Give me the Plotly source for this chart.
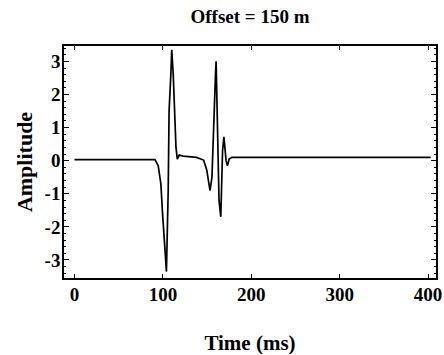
import plotly.graph_objects as go

time_ms = [0, 91, 94.7, 97.7, 99.6, 102, 104, 106, 107, 109, 110, 111.7, 114.8, 116.3,
           118.5, 123, 138, 146, 149.6, 152.6, 153.4, 155.5, 156.5, 158, 159.5, 160.2,
           161, 162, 163.5, 165.5, 166.5, 167.5, 169, 170, 171.5, 173, 175, 178, 185, 403]
amplitude = [0.03, 0.03, -0.15, -0.7, -1.6, -2.7, -3.35, -0.9, 1.5, 2.6, 3.35, 2.6, 0.4, 0.05,
             0.17, 0.14, 0.1, 0.02, -0.28, -0.78, -0.9, -0.5, 0.4, 2.0, 2.6, 3.0,
             2.0, 0.0, -1.2, -1.7, -0.5, 0.3, 0.72, 0.4, 0.0, -0.15, 0.05, 0.1, 0.1, 0.1]

title_text = "Offset = 150 m"
x_title = "Time (ms)"
y_title = "Amplitude"
x_ticks = [0, 100, 200, 300, 400]
y_ticks = [-3, -2, -1, 0, 1, 2, 3]

font_family = "Liberation Serif, Times New Roman, serif"

fig = go.Figure()
fig.add_trace(go.Scatter(x=time_ms, y=amplitude, mode="lines",
                         line=dict(color="black", width=1.7), showlegend=False))

fig.update_layout(
    width=444, height=355,
    margin=dict(l=64, r=8, t=46, b=77),
    paper_bgcolor="white", plot_bgcolor="white",
    title=dict(text="<b>" + title_text + "</b>", x=0.5, xref="paper", xanchor="center",
               y=0.955, yanchor="middle",
               font=dict(family=font_family, size=19, color="black")),
    font=dict(family=font_family, size=18, color="black"),
)
fig.update_xaxes(
    range=[-11.9, 409], tickvals=x_ticks, ticktext=["<b>%d</b>" % v for v in x_ticks],
    ticks="inside", ticklen=4, tickwidth=1, tickcolor="black",
    showline=True, linecolor="black", linewidth=1.5, mirror="allticks",
    showgrid=False, zeroline=False, ticklabelstandoff=-2, automargin=False,
    title=dict(text="<b>" + x_title + "</b>", standoff=32,
               font=dict(family=font_family, size=21, color="black")),
    tickfont=dict(family=font_family, size=19, color="black"),
)
fig.update_yaxes(
    range=[-3.544, 3.465], tickvals=y_ticks, ticktext=["<b>%d</b>" % v for v in y_ticks],
    ticks="inside", ticklen=5, tickwidth=1, tickcolor="black",
    minor=dict(dtick=0.2, ticks="inside", ticklen=2, tickcolor="black", showgrid=False),
    showline=True, linecolor="black", linewidth=1.5, mirror="allticks",
    showgrid=False, zeroline=False, ticklabelstandoff=-2, automargin=False,
    title=dict(text="<b>" + y_title + "</b>", standoff=6,
               font=dict(family=font_family, size=22, color="black")),
    tickfont=dict(family=font_family, size=19, color="black"),
)

fig.write_html("out.html", config={"displayModeBar": False},
               post_script="document.body.style.margin='0';")
